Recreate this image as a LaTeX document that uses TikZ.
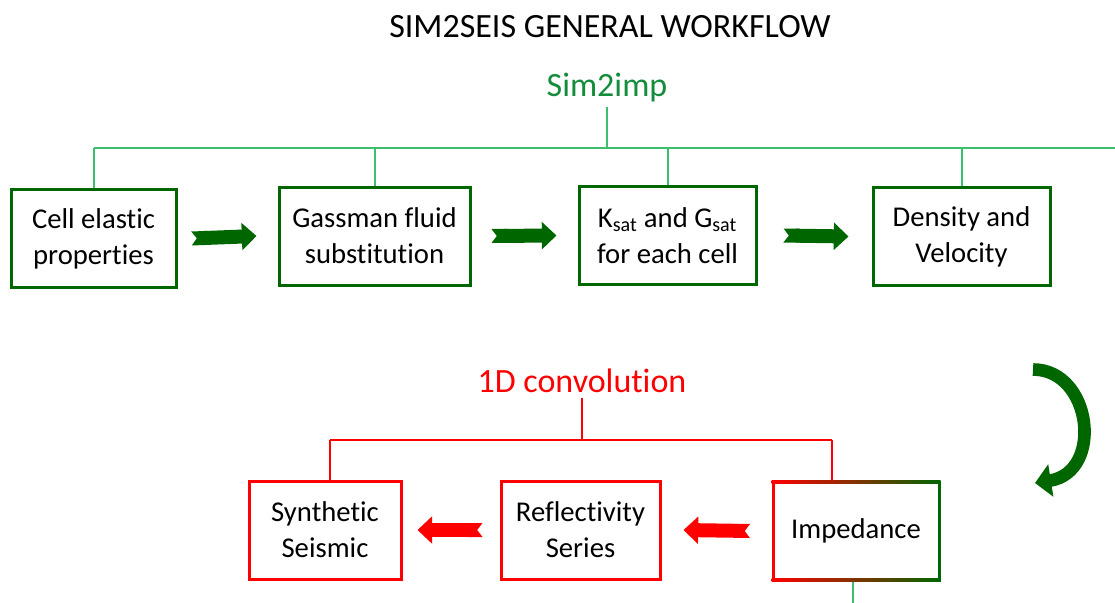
\documentclass[tikz,border=0pt]{standalone}
\usepackage{fontspec}
\setmainfont{Carlito}[Ligatures=NoCommon]
\usetikzlibrary{arrows.meta,positioning,calc}
\definecolor{boxgreen}{RGB}{0,102,0}
\definecolor{busgreen}{RGB}{60,190,110}
\definecolor{labelgreen}{RGB}{20,140,60}
\definecolor{boxred}{RGB}{255,0,0}

\begin{document}
\begin{tikzpicture}[
  x=0.75pt, y=-0.75pt,
  gbox/.style={rectangle, draw=boxgreen, line width=2.25pt, minimum height=73.5pt, align=center, font=\fontsize{21.5}{27}\selectfont},
  rbox/.style={gbox, draw=boxred},
  busline/.style={busgreen, line width=1.5pt},
  redline/.style={boxred, line width=1.5pt},
  fatgreen/.style={boxgreen, line width=10.5pt, {Triangle Cap[reversed,length=4pt]}-{Triangle[length=11pt,width=20pt]}},
  fatred/.style={fatgreen, boxred},
  heading/.style={font=\fontsize{25.5}{30}\selectfont}
]
\useasboundingbox (0,0) rectangle (1115,603);

% titles
\node[heading] (title) at (610,27) {SIM2SEIS GENERAL WORKFLOW};
\node[heading, labelgreen] (simimp) at (607,88) {Sim2imp};
\node[heading, boxred] (conv) at (582,381) {1D convolution};

% Sim2imp boxes
\node[gbox, minimum width=123.75pt] (cell) at (93.5,238.5) {Cell elastic\\properties};
\node[gbox, minimum width=143.25pt] (gass) at (374.5,236) {Gassman fluid\\substitution};
\node[gbox, minimum width=132.75pt] (ksat) at (667.5,235.5) {K\textsubscript{sat} and G\textsubscript{sat}\\for each cell};
\node[gbox, minimum width=132.75pt] (dens) at (961.5,236.5) {Density and\\Velocity};

% convolution boxes
\node[rbox, minimum width=114pt] (synth) at (325,530) {Synthetic\\Seismic};
\node[rbox, minimum width=119.25pt] (refl) at (580.5,530) {Reflectivity\\Series};
\node[gbox, draw=none, outer sep=0pt, minimum width=124.5pt] (imp) at (856,531) {Impedance};
% red-to-green border of the impedance box
\shade[left color=boxred, right color=boxgreen]
  ($(imp.north west)+(-1.5,-1.5)$) rectangle ($(imp.north east)+(1.5,1.5)$);
\shade[left color=boxred, right color=boxgreen]
  ($(imp.south west)+(-1.5,-1.5)$) rectangle ($(imp.south east)+(1.5,1.5)$);
\fill[boxred] ($(imp.north west)+(-1.5,-1.5)$) rectangle ($(imp.south west)+(1.5,1.5)$);
\fill[boxgreen] ($(imp.north east)+(-1.5,-1.5)$) rectangle ($(imp.south east)+(1.5,1.5)$);

% green bus
\coordinate (topbus) at (607,148);
\coordinate (busend) at (1115,148);
\draw[busline] (simimp.south) -- (topbus);
\draw[busline] (cell.north |- topbus) -- (busend);
\foreach \n in {cell,gass,ksat,dens}
  \draw[busline] (\n.north) -- (\n.north |- topbus);

% red bus
\coordinate (lbusl) at (330,440);
\coordinate (lbusr) at (832,440);
\draw[redline] (conv.south) -- (conv.south |- lbusl);
\draw[redline] (lbusl) -- (lbusr);
\draw[redline] (lbusl) -- (lbusl |- synth.north);
\draw[redline] (lbusr) -- ($(lbusr |- imp.north)+(0,-1.5)$);

% line out of impedance
\coordinate (impout) at (853,603);
\draw[busline] ($(impout |- imp.south)+(0,1.5)$) -- (impout);

% block arrows
\draw[fatgreen] ($(cell.east)+(14,0)$) -- ($(gass.west)+(-21,0)$);
\draw[fatgreen] ($(gass.east)+(20,0)$) -- ($(ksat.west)+(-21,0)$);
\draw[fatgreen] ($(ksat.east)+(26,0)$) -- ($(dens.west)+(-23,0)$);
\draw[fatred] ($(refl.west)+(-17,0)$) -- ($(synth.east)+(15,0)$);
\draw[fatred] ($(imp.west)+(-23,0)$) -- ($(refl.east)+(22,0)$);

% turn arrow
\draw[boxgreen, line width=9.5pt, -{Triangle[length=12pt,width=24pt]}]
  (1033,369.5) .. controls (1092,369.5) and (1104,472) .. (1035,483);

\end{tikzpicture}
\end{document}
